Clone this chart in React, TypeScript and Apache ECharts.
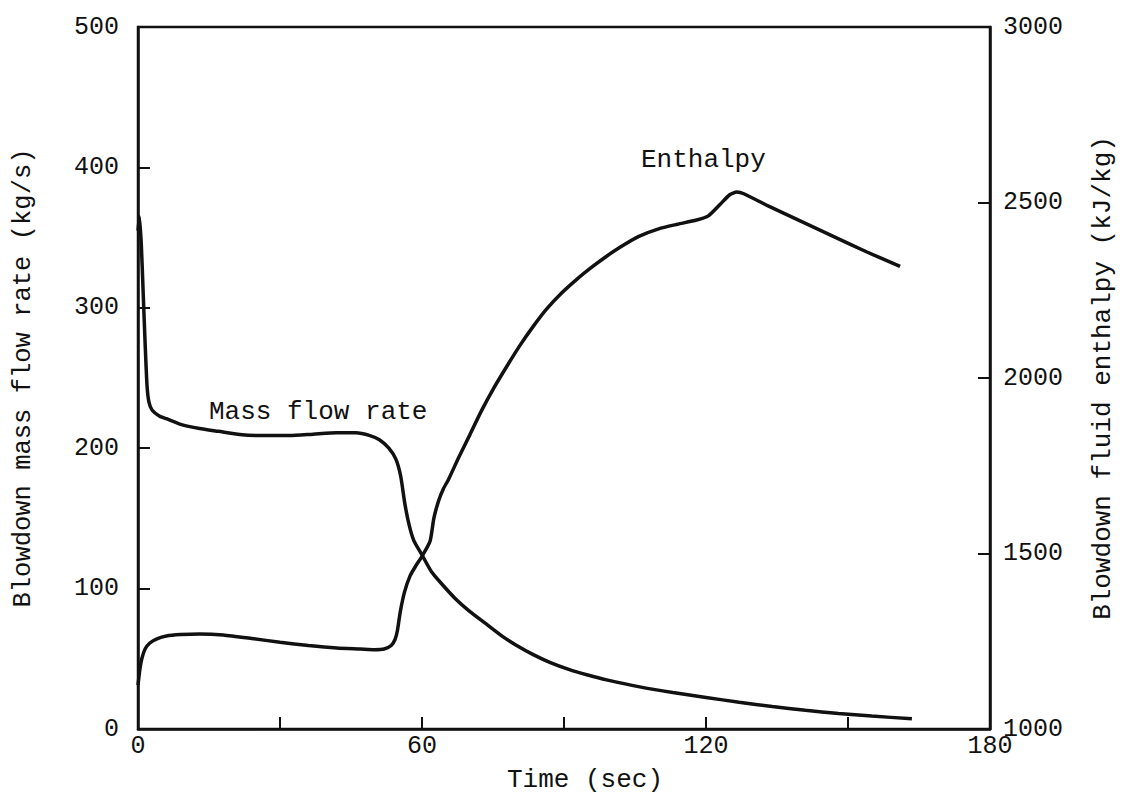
import React, { useEffect, useRef } from "react";
import * as echarts from "echarts";

// Time (sec) values with blowdown mass flow rate (kg/s)
const massTime = [0, 0.3, 0.7, 1.1, 1.5, 1.9, 2.3, 3, 4.5, 6, 9, 13, 17, 22, 27, 32, 37, 42, 46, 49, 51, 53, 54.5, 55.5, 56.4, 57.3, 58.3, 60, 62, 64, 67, 70, 73.5, 77, 80, 83.5, 87, 91, 95, 99, 106, 113, 120, 127, 134, 141, 148, 155, 163.5];
const massFlow = [355, 365, 345, 310, 275, 245, 233, 227, 223, 221, 217, 214, 212, 209.5, 209, 209, 210, 211, 211, 209, 206, 200, 192, 180, 160, 145, 134, 124, 112, 104, 93, 84, 75, 66, 59.5, 53, 47.5, 42.5, 38.5, 35, 30, 26, 22.5, 19, 16, 13.3, 11, 9.2, 7.3];

// Time (sec) values with blowdown fluid enthalpy (kJ/kg)
const enthTime = [0, 0.4, 0.8, 1.5, 2.5, 4, 6, 9, 13, 18, 24, 30, 36, 42, 47, 50, 52, 53.5, 54.3, 54.8, 55.4, 56.3, 57.5, 58.7, 60, 61.7, 62.5, 63.5, 64.5, 65.6, 67.7, 70.1, 72.5, 75.1, 78, 80.7, 83.5, 86.3, 89.5, 92.7, 96, 99, 102, 105.7, 110, 114, 118, 120.5, 123, 125, 126.5, 128, 133, 140, 147, 154, 161];
const enthalpy = [1125, 1170, 1200, 1228, 1245, 1257, 1265, 1269, 1271, 1268, 1258, 1247, 1238, 1231, 1228, 1226, 1228, 1238, 1255, 1280, 1333, 1390, 1437, 1465, 1492, 1535, 1600, 1650, 1684, 1711, 1772, 1838, 1905, 1970, 2035, 2093, 2147, 2196, 2242, 2281, 2317, 2347, 2374, 2403, 2425, 2438, 2450, 2462, 2495, 2522, 2530, 2525, 2491, 2447, 2403, 2359, 2318];

const xTicks = { min: 0, max: 180, step: 30, labelStep: 60 };
const leftTicks = { min: 0, max: 500, step: 100 };
const rightTicks = { min: 1000, max: 3000, step: 500 };

const FONT = "'Liberation Mono', 'DejaVu Sans Mono', monospace";
const INK = "#111";

export default function App() {
  const ref = useRef<HTMLDivElement>(null);

  useEffect(() => {
    if (!ref.current) return;
    const chart = echarts.init(ref.current, undefined, { renderer: "svg" });
    const axisLine = { show: true, lineStyle: { color: INK, width: 2.5 } };
    const axisTick = { show: true, inside: true, length: 12, lineStyle: { color: INK, width: 2 } };
    chart.setOption({
      animation: false,
      backgroundColor: "#fff",
      grid: {
        left: 138,
        right: 139,
        top: 27,
        bottom: 67,
        show: true,
        borderColor: INK,
        borderWidth: 2.5,
        backgroundColor: "transparent",
      },
      xAxis: {
        type: "value",
        min: xTicks.min,
        max: xTicks.max,
        interval: xTicks.step,
        name: "Time (sec)",
        nameLocation: "middle",
        nameGap: 38,
        nameTextStyle: { fontFamily: FONT, fontSize: 26, color: INK, padding: [0, 0, 0, 42] },
        axisLine,
        axisTick,
        splitLine: { show: false },
        axisLabel: {
          margin: 5,
          fontFamily: FONT,
          fontSize: 25,
          color: INK,
          formatter: (v: number) => (v % xTicks.labelStep === 0 ? String(v) : ""),
        },
      },
      yAxis: [
        {
          type: "value",
          position: "left",
          min: leftTicks.min,
          max: leftTicks.max,
          interval: leftTicks.step,
          name: "Blowdown mass flow rate (kg/s)",
          nameLocation: "middle",
          nameRotate: 90,
          nameGap: 102,
          nameTextStyle: { fontFamily: FONT, fontSize: 25.5, color: INK },
          axisLine,
          axisTick,
          splitLine: { show: false },
          axisLabel: { margin: 19, fontFamily: FONT, fontSize: 25, color: INK, formatter: (v: number) => String(v) },
        },
        {
          type: "value",
          position: "right",
          min: rightTicks.min,
          max: rightTicks.max,
          interval: rightTicks.step,
          name: "Blowdown fluid enthalpy (kJ/kg)",
          nameLocation: "middle",
          nameRotate: 90,
          nameGap: 100,
          nameTextStyle: { fontFamily: FONT, fontSize: 26, color: INK },
          axisLine,
          axisTick,
          splitLine: { show: false },
          axisLabel: { margin: 13, fontFamily: FONT, fontSize: 25, color: INK, formatter: (v: number) => String(v) },
        },
      ],
      series: [
        {
          name: "Mass flow rate",
          type: "line",
          yAxisIndex: 0,
          data: massTime.map((t, i) => [t, massFlow[i]]),
          showSymbol: false,
          smooth: 0.2,
          lineStyle: { color: INK, width: 3.5 },
        },
        {
          name: "Enthalpy",
          type: "line",
          yAxisIndex: 1,
          data: enthTime.map((t, i) => [t, enthalpy[i]]),
          showSymbol: false,
          smooth: 0.2,
          lineStyle: { color: INK, width: 3.5 },
        },
      ],
      graphic: [
        {
          type: "text",
          left: 209,
          top: 399,
          style: { text: "Mass flow rate", fontFamily: FONT, fontSize: 26, fill: INK },
        },
        {
          type: "text",
          left: 641,
          top: 147,
          style: { text: "Enthalpy", fontFamily: FONT, fontSize: 26, fill: INK },
        },
      ],
    });
    return () => chart.dispose();
  }, []);

  return (
    <div
      ref={ref}
      style={{ position: "absolute", left: 0, top: 0, width: 1129, height: 798 }}
    />
  );
}
